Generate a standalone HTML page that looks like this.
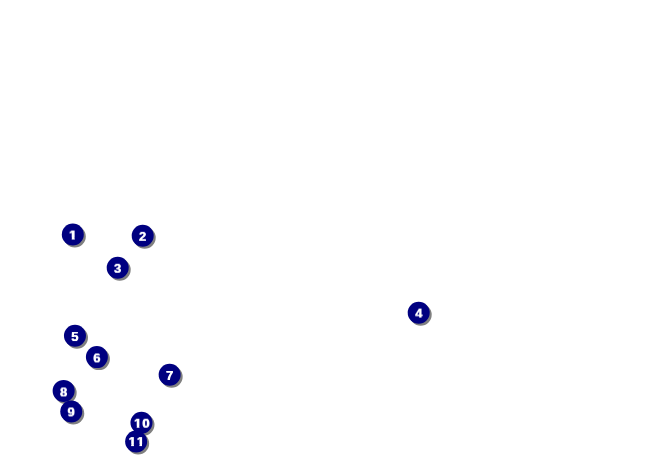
<!DOCTYPE html>
<html lang="en">
<head>
<meta charset="utf-8">
<title>Callouts</title>
<style>
html,body{margin:0;padding:0;background:#fff;}
body{width:647px;height:461px;position:relative;overflow:hidden;}
/* numbered callout marker: navy disc, soft grey drop shadow, white bold number */
.callout{position:absolute;width:30px;height:30px;}
.callout svg{position:absolute;left:0;top:0;display:block;overflow:visible;}
.s{fill:#808080;filter:url(#soft);}
.d{fill:#000080;}
.num{position:absolute;height:20px;line-height:20px;white-space:nowrap;will-change:transform;transform-origin:0 14px;
font-family:"Liberation Sans",Arial,Helvetica,sans-serif;font-weight:bold;font-size:13px;color:#fff;
letter-spacing:1.02px;font-kerning:none;text-shadow:0.5px 0 0 #fff;}
.num span{display:inline-block;position:relative;}
/* trim the foot serif of the digit 1 so it reads like the original face */
.k1{clip-path:polygon(-2px 0px,12px 0px,12px 12px,5.78px 12px,5.78px 20px,3.09px 20px,3.09px 12px,-2px 12px);}
.k10{clip-path:polygon(-2px 0px,20px 0px,20px 20px,8.75px 20px,8.75px 12px,5.53px 12px,5.53px 20px,3.09px 20px,3.09px 12px,-2px 12px);}
.k11{clip-path:polygon(-2px 0px,20px 0px,20px 12px,13.78px 12px,13.78px 20px,11.34px 20px,11.34px 12px,5.53px 12px,5.53px 20px,3.09px 20px,3.09px 12px,-2px 12px);}
</style>
</head>
<body>
<svg width="0" height="0" style="position:absolute" aria-hidden="true"><defs><filter id="soft" x="-20%" y="-20%" width="140%" height="140%"><feGaussianBlur stdDeviation="0.45"/></filter></defs></svg>
<div class="callout" style="left:58px;top:220px">
<svg width="30" height="30" viewBox="0 0 30 30"><circle class="s" cx="16.8" cy="16.55" r="11"/><circle class="d" cx="14.8" cy="14.55" r="11"/></svg>
<div class="num" style="left:10px;top:5px;transform:translate(0,0.55px) rotate(0.02deg)"><span class="k1" style="left:0.75px;text-shadow:1px 0 0 #fff">1</span></div>
</div>
<div class="callout" style="left:128px;top:221px">
<svg width="30" height="30" viewBox="0 0 30 30"><circle class="s" cx="16.7" cy="16.75" r="11"/><circle class="d" cx="14.7" cy="14.75" r="11"/></svg>
<div class="num" style="left:10px;top:5px;transform:translate(0,0.85px) rotate(0.02deg)"><span style="left:0.75px">2</span></div>
</div>
<div class="callout" style="left:103px;top:253px">
<svg width="30" height="30" viewBox="0 0 30 30"><circle class="s" cx="16.7" cy="16.75" r="11"/><circle class="d" cx="14.7" cy="14.75" r="11"/></svg>
<div class="num" style="left:10px;top:5px;transform:translate(0,0.8px) rotate(0.02deg)"><span style="left:0.75px">3</span></div>
</div>
<div class="callout" style="left:404px;top:298px">
<svg width="30" height="30" viewBox="0 0 30 30"><circle class="s" cx="16.7" cy="16.8" r="11"/><circle class="d" cx="14.7" cy="14.8" r="11"/></svg>
<div class="num" style="left:11px;top:5px;transform:translate(0,0.6px) rotate(0.02deg)"><span>4</span></div>
</div>
<div class="callout" style="left:60px;top:321px">
<svg width="30" height="30" viewBox="0 0 30 30"><circle class="s" cx="16.97" cy="16.75" r="11"/><circle class="d" cx="14.97" cy="14.75" r="11"/></svg>
<div class="num" style="left:11px;top:6px;transform:translate(0,0.05px) rotate(0.02deg)"><span>5</span></div>
</div>
<div class="callout" style="left:82px;top:343px">
<svg width="30" height="30" viewBox="0 0 30 30"><circle class="s" cx="16.9" cy="16.1" r="11"/><circle class="d" cx="14.9" cy="14.1" r="11"/></svg>
<div class="num" style="left:11px;top:5px;transform:translate(0,0.45px) rotate(0.02deg)"><span>6</span></div>
</div>
<div class="callout" style="left:155px;top:360px">
<svg width="30" height="30" viewBox="0 0 30 30"><circle class="s" cx="16.65" cy="16.8" r="11"/><circle class="d" cx="14.65" cy="14.8" r="11"/></svg>
<div class="num" style="left:10px;top:6px;transform:translate(0,0px) rotate(0.02deg)"><span style="left:0.75px">7</span></div>
</div>
<div class="callout" style="left:49px;top:376px">
<svg width="30" height="30" viewBox="0 0 30 30"><circle class="s" cx="16.65" cy="16.9" r="11"/><circle class="d" cx="14.65" cy="14.9" r="11"/></svg>
<div class="num" style="left:10px;top:6px;transform:translate(0,0.45px) rotate(0.02deg)"><span style="left:0.75px">8</span></div>
</div>
<div class="callout" style="left:57px;top:397px">
<svg width="30" height="30" viewBox="0 0 30 30"><circle class="s" cx="16.27" cy="16.45" r="11"/><circle class="d" cx="14.27" cy="14.45" r="11"/></svg>
<div class="num" style="left:10px;top:5px;transform:translate(0,0.45px) rotate(0.02deg)"><span style="left:0.25px">9</span></div>
</div>
<div class="callout" style="left:127px;top:408px">
<svg width="30" height="30" viewBox="0 0 30 30"><circle class="s" cx="16.47" cy="16.7" r="11"/><circle class="d" cx="14.47" cy="14.7" r="11"/></svg>
<div class="num" style="left:6px;top:5px;transform:translate(0,0.75px) rotate(0.02deg)"><span class="k10" style="left:0.75px;text-shadow:0.75px 0 0 #fff">10</span></div>
</div>
<div class="callout" style="left:122px;top:427px">
<svg width="30" height="30" viewBox="0 0 30 30"><circle class="s" cx="16.15" cy="16.5" r="11"/><circle class="d" cx="14.15" cy="14.5" r="11"/></svg>
<div class="num" style="left:6px;top:5px;transform:translate(0,0.1px) rotate(0.02deg)"><span class="k11" style="left:0.25px;text-shadow:0.75px 0 0 #fff">11</span></div>
</div>
</body>
</html>
